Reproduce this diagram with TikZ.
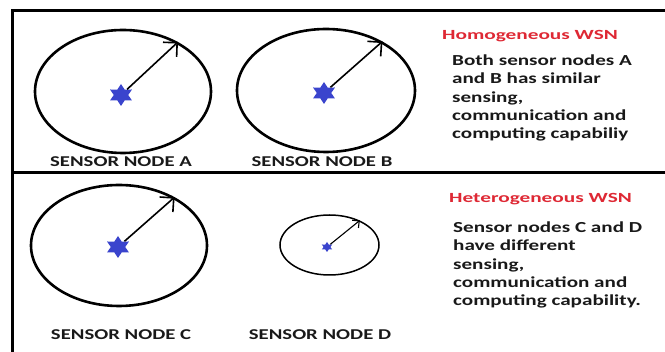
\documentclass[tikz,border=0pt]{standalone}
\usepackage{fontspec}
\newfontfamily\wsnfont{Carlito}[FakeStretch=1.38]
\newfontfamily\wsntitlefont{Carlito}[FakeStretch=1.52]
\usetikzlibrary{shapes.geometric,arrows.meta}
\definecolor{wsnred}{RGB}{222,40,52}
\definecolor{wsnblue}{RGB}{58,68,205}
\definecolor{wsnink}{RGB}{25,25,25}
\begin{document}
\begin{tikzpicture}[x=1pt,y=-1pt,
  borderline/.style={line width=3pt,line cap=rect},
  divider/.style={line width=2.6pt},
  rangering/.style={ellipse,draw,line width=2.6pt,inner sep=0pt},
  smallring/.style={ellipse,draw,line width=1.5pt,inner sep=0pt},
  sensor/.style={star,star points=6,star point ratio=1.75,fill=wsnblue,draw=none,inner sep=0pt},
  rangearrow/.style={line width=1.6pt,-{Straight Barb[length=10pt,width=20pt]}},
  smallarrow/.style={line width=1.1pt,-{Straight Barb[length=5pt,width=10pt]}},
  lbl/.style={font=\wsnfont\bfseries\fontsize{15}{18}\selectfont,inner sep=0pt,text=wsnink},
  ttl/.style={font=\wsntitlefont\bfseries\fontsize{14}{16}\selectfont,inner sep=0pt,text=wsnred,anchor=north west},
  body/.style={font=\wsnfont\bfseries\fontsize{15.3}{18.3}\selectfont,inner sep=0pt,text=wsnink,align=left,anchor=north west}
]
\useasboundingbox (0,0) rectangle (665,352);
% frame
\coordinate (tl) at (12,11);
\coordinate (tr) at (668,11);
\coordinate (bl) at (12,355);
\coordinate (ml) at (12,172.5);
\coordinate (mr) at (668,172.5);
\draw[borderline] (tr) -- (tl) -- (bl);
\draw[divider] (ml) -- (mr);

% Sensor node A
\node[rangering,minimum width=176,minimum height=123] (cA) at (123,91.5) {};
\node[sensor,minimum size=22,xscale=1.15] (sA) at (121,95) {};
\draw[rangearrow] (sA) -- (cA.42);
\node[lbl] (lA) at (121,162) {SENSOR NODE A};

% Sensor node B
\node[rangering,minimum width=178,minimum height=123] (cB) at (326,90.5) {};
\node[sensor,minimum size=22,xscale=1.15] (sB) at (324,93) {};
\draw[rangearrow] (sB) -- (cB.41);
\node[lbl] (lB) at (322,162) {SENSOR NODE B};

% Sensor node C
\node[rangering,minimum width=176,minimum height=121] (cC) at (119,245.5) {};
\node[sensor,minimum size=22,xscale=1.15] (sC) at (118,247) {};
\draw[rangearrow] (sC) -- (cC.41);
\node[lbl] (lC) at (121,335) {SENSOR NODE C};

% Sensor node D
\node[smallring,minimum width=99,minimum height=60] (cD) at (329.5,245) {};
\node[sensor,minimum size=10,xscale=1.2] (sD) at (327,247) {};
\draw[smallarrow] (sD) -- (cD.39);
\node[lbl] (lD) at (320,335) {SENSOR NODE D};

% texts
\node[ttl] (hoT) at (442,30.5) {Homogeneous WSN};
\node[body] (hoB) at (452,54.5) {Both sensor nodes A\\and B has similar\\sensing,\\communication and\\computing capabiliy};
\node[ttl] (heT) at (449,193.5) {Heterogeneous WSN};
\node[body] (heB) at (453,221.5) {Sensor nodes C and D\\have different\\sensing,\\communication and\\computing capability.};
\end{tikzpicture}
\end{document}
